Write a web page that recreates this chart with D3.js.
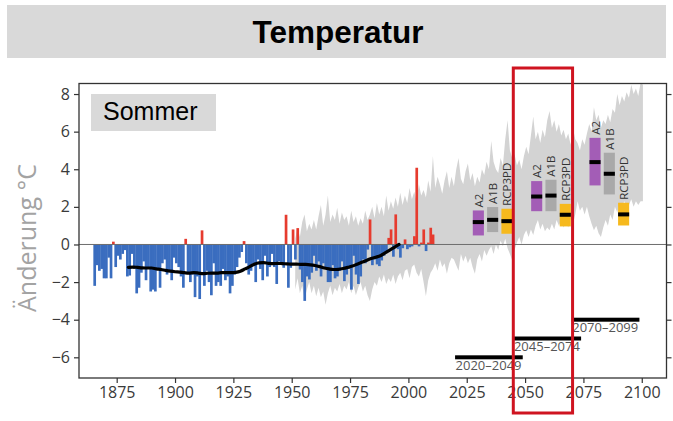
<!DOCTYPE html>
<html><head><meta charset="utf-8">
<script src="https://cdn.jsdelivr.net/npm/d3@7"></script>
<style>
html,body{margin:0;padding:0;background:#fff;}
svg{display:block;}
</style></head>
<body>
<svg id="chart" width="673" height="421"></svg>
<script>
// Observed summer temperature anomalies (°C), one bar per year
const anomalyYears = [
  1865,1866,1867,1868,1869,1870,1871,1872,1873,1874,1875,1876,1877,1878,1879,
  1880,1881,1882,1883,1884,1885,1886,1887,1888,1889,1890,1891,1892,1893,1894,1895,1896,1897,1898,1899,
  1900,1901,1902,1903,1904,1905,1906,1907,1908,1909,1910,1911,1912,1913,1914,1915,1916,1917,1918,1919,
  1920,1921,1922,1923,1924,1925,1926,1927,1928,1929,1930,1931,1932,1933,1934,1935,1936,1937,1938,1939,
  1940,1941,1942,1943,1944,1945,1946,1947,1948,1949,1950,1951,1952,1953,1954,1955,1956,1957,1958,1959,
  1960,1961,1962,1963,1964,1965,1966,1967,1968,1969,1970,1971,1972,1973,1974,1975,1976,1977,1978,1979,
  1980,1981,1982,1983,1984,1985,1986,1987,1988,1989,1990,1991,1992,1993,1994,1995,1996,1997,1998,1999,
  2000,2001,2002,2003,2004,2005,2006,2007,2008,2009,2010
];
const anomalyValues = [
  -2.2,-1.1,-1.4,-1.3,-1.8,-1.8,-0.7,-1.8,0.15,-1.2,-0.6,-0.8,-0.5,-0.3,-1.7,
  -1.65,-0.5,-1.3,-2.6,-2.3,-1.5,-0.9,-1.9,-1.2,-2.5,-2.4,-2.5,-1.3,-2.3,-1.0,-0.8,-1.6,-1.4,-1.9,-0.7,
  -1.0,-1.2,-1.7,-2.3,0.3,-1.5,-2.0,-1.6,-2.8,-1.7,-2.9,0.75,-2.2,-1.4,-2.0,-2.7,-1.0,-2.2,-2.0,-2.2,
  -1.3,-1.9,-1.7,-2.6,-2.2,-1.6,-1.2,-0.7,-0.4,0.18,-1.0,-1.6,-1.4,-1.0,-2.0,-0.8,-1.3,-1.9,-0.6,-1.7,
  -1.2,-0.5,-1.2,-2.1,-0.9,-0.97,-1.24,1.58,-2.3,-1.24,0.8,-0.8,0.87,-1.33,-2.0,-3.0,-1.7,-1.86,-1.5,-0.6,
  -1.4,-0.9,-1.7,-1.0,-1.3,-2.0,-2.0,-1.1,-1.8,-1.7,-1.4,-0.9,-1.95,-1.6,-1.3,-2.4,-0.6,-1.6,-2.1,-1.7,
  -0.8,-1.0,-0.27,1.33,-1.1,-0.8,-1.06,-1.15,-0.85,-0.6,-0.45,0.35,0.8,-0.65,1.6,-0.25,-0.7,-0.2,0.27,-0.25,
  -0.15,-0.1,0.44,4.08,-0.1,0.1,0.8,-0.35,0.1,0.89,0.53
];

// Smoothed course of the observations
const meanYears = [1880,1882,1884,1886,1888,1890,1892,1894,1896,1898,1900,1902,1904,1906,1908,1910,1912,1914,1916,1918,
  1920,1922,1924,1926,1928,1930,1932,1934,1936,1938,1940,1942,1944,1946,1948,1950,1952,1954,1956,1958,
  1960,1962,1964,1966,1968,1970,1972,1974,1976,1978,1980,1982,1984,1986,1988,1990,1992,1994,1996];
const meanValues = [-1.22,-1.2,-1.22,-1.24,-1.25,-1.25,-1.3,-1.33,-1.38,-1.42,-1.45,-1.47,-1.5,-1.52,-1.5,-1.52,-1.55,-1.53,-1.52,-1.52,
  -1.5,-1.5,-1.5,-1.48,-1.42,-1.3,-1.18,-1.05,-0.98,-0.97,-1.0,-1.02,-1.0,-1.02,-1.03,-1.05,-1.04,-1.06,-1.06,-1.08,
  -1.12,-1.18,-1.25,-1.3,-1.33,-1.32,-1.28,-1.22,-1.15,-1.05,-0.95,-0.85,-0.75,-0.68,-0.6,-0.45,-0.3,-0.15,0.0];

// Spread of the model simulations (°C)
const envelopeYears = [
  1951,1952,1953,1954,1955,1956,1957,1958,1959,1960,1961,1962,1963,1964,1965,1966,1967,1968,1969,1970,
  1971,1972,1973,1974,1975,1976,1977,1978,1979,1980,1981,1982,1983,1984,1985,1986,1987,1988,1989,1990,
  1991,1992,1993,1994,1995,1996,1997,1998,1999,2000,2001,2002,2003,2004,2005,2006,2007,2008,2009,2010,
  2011,2012,2013,2014,2015,2016,2017,2018,2019,2020,2021,2022,2023,2024,2025,2026,2027,2028,2029,2030,
  2031,2032,2033,2034,2035,2036,2037,2038,2039,2040,2041,2042,2043,2044,2045,2046,2047,2048,2049,2050,
  2051,2052,2053,2054,2055,2056,2057,2058,2059,2060,2061,2062,2063,2064,2065,2066,2067,2068,2069,2070,
  2071,2072,2073,2074,2075,2076,2077,2078,2079,2080,2081,2082,2083,2084,2085,2086,2087,2088,2089,2090,
  2091,2092,2093,2094,2095,2096,2097,2098,2099,2100
];
const envelopeUpper = [
  0.3,0.9,0.4,1.2,1.6,0.7,1.1,0.8,1.3,0.8,1.5,2.1,1.0,1.6,2.6,1.2,1.6,1.3,1.95,1.1,
  1.7,1.3,1.5,1.0,1.8,1.2,1.5,1.0,1.4,1.1,1.8,1.3,1.6,2.0,1.4,2.2,1.6,2.0,1.5,2.6,
  1.8,2.3,1.9,2.5,2.0,2.75,2.1,2.6,2.2,3.0,2.4,2.8,2.3,3.2,2.6,2.9,2.5,3.4,2.8,4.7,
  3.0,3.6,3.2,2.7,3.4,3.9,3.0,3.6,3.1,4.0,4.6,3.5,3.2,3.9,4.3,3.4,3.8,3.1,3.6,3.3,
  4.0,3.7,4.4,4.0,5.5,4.4,4.0,3.8,4.6,4.2,5.6,6.6,5.0,4.6,4.8,4.2,4.5,4.0,4.7,5.2,
  4.8,5.8,6.8,5.6,6.0,5.4,6.1,5.7,6.6,7.1,6.2,6.6,6.0,6.4,5.8,6.1,5.6,5.9,5.3,6.2,
  5.6,5.4,5.0,5.6,5.3,5.9,6.4,6.0,7.3,6.6,6.9,6.2,6.6,6.4,6.9,6.5,7.2,7.0,8.0,7.4,
  7.9,7.6,8.1,7.8,8.5,8.0,8.3,7.9,8.6,8.5
];
const envelopeLower = [
  -2.4,-1.8,-2.6,-2.2,-2.9,-2.4,-2.0,-2.6,-2.2,-2.75,-2.3,-2.8,-2.5,-3.2,-2.6,-2.2,-2.7,-2.3,-2.5,-2.1,
  -2.6,-2.2,-2.4,-2.0,-2.6,-2.2,-2.7,-2.3,-2.0,-2.5,-2.2,-2.7,-3.0,-2.4,-2.0,-2.2,-1.7,-2.0,-1.6,-2.1,
  -1.8,-2.0,-1.6,-2.1,-1.7,-1.5,-1.9,-1.4,-1.3,-1.8,-1.2,-1.06,-1.5,-1.7,-1.3,-2.0,-2.75,-1.9,-1.5,-1.3,
  -1.0,-1.4,-0.8,-1.2,-1.0,-1.56,-1.0,-0.7,-0.8,-1.1,-1.4,-0.5,-0.9,-0.6,-1.0,-0.7,-1.2,-1.56,-0.8,-0.5,
  -0.9,-0.3,-0.6,-0.3,-0.1,-0.5,0.0,-0.3,0.2,-0.1,0.3,-0.2,-0.5,-0.85,-0.3,0.1,0.4,0.0,0.5,0.75,
  0.4,0.8,0.5,1.0,1.3,0.8,1.1,0.7,0.9,0.75,1.1,0.8,1.3,1.0,1.3,0.9,1.2,0.9,1.4,1.1,
  1.6,2.3,1.8,2.0,1.6,2.0,1.5,1.1,0.75,1.0,0.6,0.4,0.9,1.3,1.0,1.6,1.3,2.0,1.7,2.2,
  2.0,2.3,2.0,2.1,2.4,2.0,2.3,2.1,2.3,2.3
];

// Scenario ranges for the three 30-year periods
const scenarioNames = ["A2", "A1B", "RCP3PD"];
const scenarioColors = ["#a35db6", "#a9a9a9", "#f6b91d"];
const periodStarts = [2020, 2045, 2070];
const periodEnds = [2049, 2074, 2099];
const periodLabels = ["2020–2049", "2045–2074", "2070–2099"];
const periodLevels = [-6, -5, -4];
// rows: scenario (A2, A1B, RCP3PD); columns: period
const scenarioLow = [[0.48, 1.77, 3.14], [0.66, 1.77, 2.66], [0.57, 0.96, 1.01]];
const scenarioHigh = [[1.81, 3.37, 5.67], [1.99, 3.44, 4.88], [1.9, 2.16, 2.22]];
const scenarioMedian = [[1.19, 2.55, 4.38], [1.31, 2.6, 3.76], [1.24, 1.58, 1.6]];

const xTickValues = [1875, 1900, 1925, 1950, 1975, 2000, 2025, 2050, 2075, 2100];
const yTickValues = [-6, -4, -2, 0, 2, 4, 6, 8];

const titleText = "Temperatur";
const seasonText = "Sommer";
const yAxisTitle = "Änderung °C";

// ---------------------------------------------------------------
const svg = d3.select("#chart");
const plot = { left: 79, right: 666.5, top: 83.5, bottom: 378 };

const x = d3.scaleLinear().domain([1858.85, 2110.6]).range([plot.left, plot.right]);
const y = d3.scaleLinear().domain([-7.1, 8.56]).range([plot.bottom, plot.top]);

const font = "'Open Sans', 'DejaVu Sans', sans-serif";

// Title banner
svg.append("rect").attr("x", 7).attr("y", 5).attr("width", 659).attr("height", 53).attr("fill", "#d9d9d9");
svg.append("text").attr("x", 338).attr("y", 43).attr("text-anchor", "middle")
  .attr("font-family", "'Liberation Sans', Arial, sans-serif").attr("font-weight", "bold")
  .attr("font-size", 31.5).attr("fill", "#000").text(titleText);

svg.append("defs").append("clipPath").attr("id", "plotClip")
  .append("rect").attr("x", plot.left).attr("y", plot.top)
  .attr("width", plot.right - plot.left).attr("height", plot.bottom - plot.top);

const inner = svg.append("g").attr("clip-path", "url(#plotClip)");

// Model spread
const envelope = envelopeYears.map((yr, i) => ({ yr, hi: envelopeUpper[i], lo: envelopeLower[i] }));
inner.append("path").datum(envelope)
  .attr("fill", "#d3d3d3")
  .attr("d", d3.area().x(d => x(d.yr + 0.5)).y0(d => y(d.lo)).y1(d => y(d.hi)));

// Yearly anomalies (neighbouring bars overlap a little so the columns read as one mass)
const bars = anomalyYears.map((yr, i) => ({ yr, v: anomalyValues[i] }));
inner.append("g").selectAll("rect").data(bars).join("rect")
  .attr("x", d => x(d.yr))
  .attr("width", d => x(d.yr + 1) - x(d.yr) + 0.35)
  .attr("y", d => y(Math.max(0, d.v)))
  .attr("height", d => Math.abs(y(d.v) - y(0)))
  .attr("fill", d => d.v >= 0 ? "#e63b2e" : "#3a6dbf");

// Zero line
inner.append("line").attr("x1", plot.left).attr("x2", plot.right)
  .attr("y1", y(0)).attr("y2", y(0)).attr("stroke", "#6e6e6e").attr("stroke-width", 1);

// Smoothed observations
const meanPts = meanYears.map((yr, i) => ({ yr, v: meanValues[i] }));
inner.append("path").datum(meanPts)
  .attr("fill", "none").attr("stroke", "#000").attr("stroke-width", 3.2)
  .attr("stroke-linejoin", "round").attr("stroke-linecap", "round")
  .attr("d", d3.line().x(d => x(d.yr)).y(d => y(d.v)).curve(d3.curveMonotoneX));

// Scenario boxes
periodStarts.forEach((start, p) => {
  const band = d3.scaleBand().domain(scenarioNames)
    .range([x(start + 7.6), x(start + 24.6)]).paddingInner(0.225).paddingOuter(0);
  scenarioNames.forEach((name, s) => {
    const bx = band(name), bw = band.bandwidth();
    const g = svg.append("g");
    g.append("rect").attr("x", bx).attr("width", bw)
      .attr("y", y(scenarioHigh[s][p])).attr("height", y(scenarioLow[s][p]) - y(scenarioHigh[s][p]))
      .attr("fill", scenarioColors[s]);
    g.append("rect").attr("x", bx).attr("width", bw)
      .attr("y", y(scenarioMedian[s][p]) - 2).attr("height", 4).attr("fill", "#000");
    g.append("text")
      .attr("transform", `translate(${bx + bw / 2},${y(scenarioHigh[s][p]) - 3}) rotate(-90)`)
      .attr("dominant-baseline", "central").attr("text-anchor", "start")
      .attr("font-family", font).attr("font-size", 11.5).attr("fill", "#333").text(name);
  });
  // Period marker
  svg.append("rect").attr("x", x(start)).attr("width", x(periodEnds[p]) - x(start))
    .attr("y", y(periodLevels[p]) - 2).attr("height", 4).attr("fill", "#000");
  svg.append("text").attr("x", x(start) + 0.5).attr("y", y(periodLevels[p]) + 12.5)
    .attr("font-family", font).attr("font-size", 13).attr("fill", "#555").text(periodLabels[p]);
});

// Frame
svg.append("rect").attr("x", plot.left).attr("y", plot.top)
  .attr("width", plot.right - plot.left).attr("height", plot.bottom - plot.top)
  .attr("fill", "none").attr("stroke", "#333").attr("stroke-width", 1.3);

// Axes
const styleAxis = g => {
  g.select(".domain").remove();
  g.selectAll(".tick line").attr("stroke", "#333").attr("stroke-width", 1.2);
  g.selectAll(".tick text").attr("font-family", font).attr("font-size", 16).attr("fill", "#3a3a3a");
};
svg.append("g").attr("transform", `translate(${plot.left},0)`)
  .call(d3.axisLeft(y).tickValues(yTickValues).tickSize(5).tickPadding(4))
  .call(styleAxis);
svg.append("g").attr("transform", `translate(${plot.right},0)`)
  .call(d3.axisRight(y).tickValues(yTickValues).tickSize(5).tickFormat(""))
  .call(styleAxis);
svg.append("g").attr("transform", `translate(0,${plot.bottom})`)
  .call(d3.axisBottom(x).tickValues(xTickValues).tickSize(5).tickPadding(4).tickFormat(d3.format("d")))
  .call(styleAxis);

// Axis title
svg.append("text").attr("transform", "translate(36,238) rotate(-90)")
  .attr("text-anchor", "middle").attr("font-family", font).attr("font-size", 25)
  .attr("fill", "#a3a3a3").text(yAxisTitle);

// Season tag
svg.append("rect").attr("x", 91).attr("y", 94).attr("width", 125).attr("height", 37).attr("fill", "#d9d9d9");
svg.append("text").attr("x", 103).attr("y", 119.5)
  .attr("font-family", "'Liberation Sans', Arial, sans-serif").attr("font-size", 25)
  .attr("fill", "#000").text(seasonText);

// Highlight of the middle period
svg.append("rect").attr("x", x(2044.95)).attr("y", 68)
  .attr("width", x(2070.35) - x(2044.95)).attr("height", 345)
  .attr("fill", "none").attr("stroke", "#cf1420").attr("stroke-width", 3);
</script>
</body></html>
